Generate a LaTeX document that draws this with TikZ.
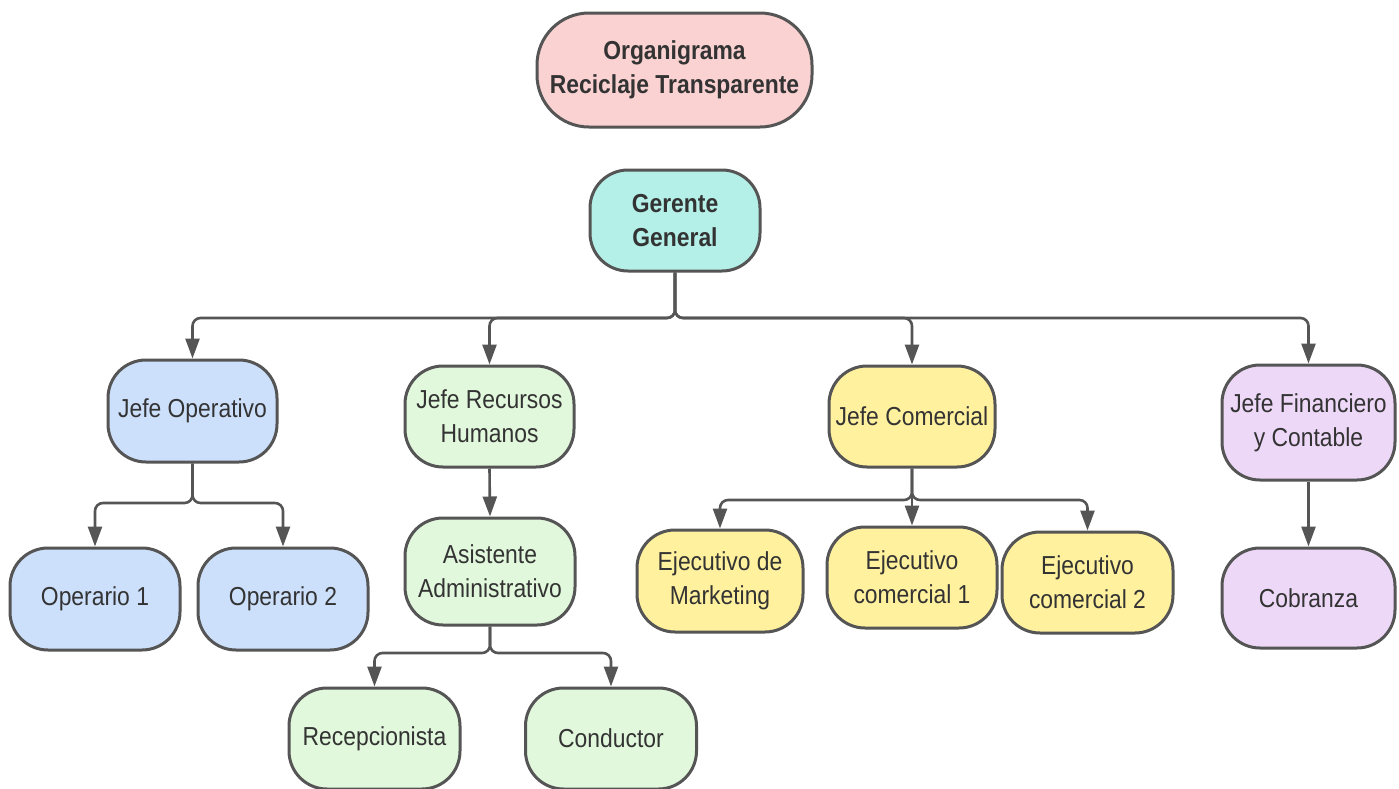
\documentclass[tikz,border=0pt]{standalone}
\usepackage{fontspec}
\setmainfont{Liberation Sans}[FakeStretch=0.88]
\usetikzlibrary{arrows.meta}
\definecolor{edge}{HTML}{555555}
\definecolor{txt}{HTML}{333333}
\definecolor{cpink}{HTML}{FAD2D2}
\definecolor{cteal}{HTML}{B4F0E8}
\definecolor{cblue}{HTML}{CCE0FC}
\definecolor{cgreen}{HTML}{E2F8DC}
\definecolor{cyellow}{HTML}{FFF19E}
\definecolor{cpurple}{HTML}{EDD8F8}
\tikzset{
  box/.style={draw=edge, line width=1.5pt, rounded corners=19pt, align=center,
    text=txt, font=\fontsize{13}{17}\selectfont, inner sep=0pt},
  bw/.style 2 args={minimum width=#1*0.5pt, minimum height=#2*0.5pt},
  conn/.style={draw=edge, line width=1.3pt, rounded corners=4pt,
    -{Triangle[length=10pt,width=7pt]}},
}
\begin{document}
\begin{tikzpicture}[x=0.5pt,y=-0.5pt]
\useasboundingbox (0,0) rectangle (1399,788);
\node[box, fill=cpink, bw={275}{114}, rounded corners=26pt, font=\bfseries\fontsize{13}{17}\selectfont] (org) at (674.5,70) {Organigrama\\Reciclaje Transparente};
\node[box, fill=cteal, bw={170}{101}, font=\bfseries\fontsize{13}{17}\selectfont] (ger) at (675,220.5) {Gerente\\General};
\node[box, fill=cblue, bw={169}{102}] (jop) at (192.5,411) {Jefe Operativo};
\node[box, fill=cgreen, bw={169}{101}] (jrh) at (489.5,416.5) {Jefe Recursos\\Humanos};
\node[box, fill=cyellow, bw={166}{101}] (jco) at (912,416.5) {Jefe Comercial};
\node[box, fill=cpurple, bw={173}{115}] (jfi) at (1308.5,422.5) {Jefe Financiero\\y Contable};
\node[box, fill=cblue, bw={170}{102}] (op1) at (95,599) {Operario 1};
\node[box, fill=cblue, bw={170}{102}] (op2) at (283,599) {Operario 2};
\node[box, fill=cgreen, bw={170}{107}] (asi) at (490,571.5) {Asistente\\Administrativo};
\node[box, fill=cgreen, bw={171}{101}] (rec) at (374.5,738.5) {Recepcionista};
\node[box, fill=cgreen, bw={171}{101}] (con) at (611,738.5) {Conductor};
\node[box, fill=cyellow, bw={166}{102}] (emk) at (720,581) {Ejecutivo de\\Marketing};
\node[box, fill=cyellow, bw={170}{101}] (ec1) at (912,577.5) {Ejecutivo\\comercial 1};
\node[box, fill=cyellow, bw={171}{101}] (ec2) at (1087.5,582.5) {Ejecutivo\\comercial 2};
\node[box, fill=cpurple, bw={173}{100}] (cob) at (1308.5,598) {Cobranza};
\coordinate (b1) at (675,318);
\coordinate (b2) at (192.5,503);
\coordinate (b3) at (490,653);
\coordinate (b4) at (912,500);
\draw[conn] (ger.south) -- (b1) -| (jop.north);
\draw[conn] (ger.south) -- (b1) -| (jrh.north);
\draw[conn] (ger.south) -- (b1) -| (jco.north);
\draw[conn] (ger.south) -- (b1) -| (jfi.north);
\draw[conn] (jop.south) -- (b2) -| (op1.north);
\draw[conn] (jop.south) -- (b2) -| (op2.north);
\draw[conn] (jrh.south) -- (asi.north);
\draw[conn] (asi.south) -- (b3) -| (rec.north);
\draw[conn] (asi.south) -- (b3) -| (con.north);
\draw[conn] (jco.south) -- (b4) -| (emk.north);
\draw[conn] (jco.south) -- (ec1.north);
\draw[conn] (jco.south) -- (b4) -| (ec2.north);
\draw[conn] (jfi.south) -- (cob.north);
\end{tikzpicture}
\end{document}
